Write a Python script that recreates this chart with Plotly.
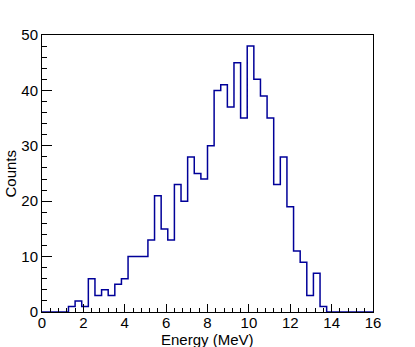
import numpy as np
import plotly.graph_objects as go

# histogram: 50 bins from 0 to 16 MeV
n_bins = 50
e_min, e_max = 0.0, 16.0
counts = [0, 0, 0, 0, 1, 2, 1, 6, 3, 4,
          3, 5, 6, 10, 10, 10, 13, 21, 15, 13,
          23, 20, 28, 25, 24, 30, 40, 41, 37, 45,
          35, 48, 42, 39, 35, 23, 28, 19, 11, 9,
          3, 7, 1, 0, 0, 0, 0, 0, 0, 0]
x_title = "Energy (MeV)"
y_title = "Counts"

edges = np.linspace(e_min, e_max, n_bins + 1)
x_step = list(edges)
y_step = counts + [counts[-1]]

font = dict(family="Liberation Sans, Arial, sans-serif", size=15, color="black")

fig = go.Figure()
fig.add_trace(go.Scatter(x=x_step, y=y_step, mode="lines",
                         line=dict(color="#000099", width=1.5, shape="hv"),
                         showlegend=False, hoverinfo="skip"))

axis_common = dict(showgrid=False, zeroline=False, showline=True, linecolor="black",
                   linewidth=1, mirror=True, ticks="inside", tickcolor="black",
                   tickwidth=1, tickfont=font, automargin=False)

fig.update_xaxes(range=[e_min, e_max], dtick=2, tick0=0, ticklen=8,
                 ticklabelstandoff=-3,
                 minor=dict(ticks="inside", dtick=0.4, ticklen=4, tickcolor="black"),
                 **axis_common)
fig.update_yaxes(range=[0, 50], dtick=10, tick0=0, ticklen=10,
                 minor=dict(ticks="inside", dtick=2, ticklen=5, tickcolor="black"),
                 **axis_common)

# axis titles as annotations so they sit where ROOT puts them
fig.add_annotation(text=x_title, xref="paper", yref="paper", x=0.5, y=0,
                   yshift=-27, xanchor="center", yanchor="middle",
                   showarrow=False, font=font)
fig.add_annotation(text=y_title, xref="paper", yref="paper", x=0, y=0.5,
                   xshift=-32, xanchor="center", yanchor="middle", textangle=-90,
                   showarrow=False, font=font)

fig.update_layout(width=415, height=347,
                  margin=dict(l=42, r=42, t=35, b=35),
                  paper_bgcolor="white", plot_bgcolor="white",
                  font=font)

# drop the default 8px page margin so the figure fills the window
fig.write_html("out.html", config={"displayModeBar": False},
               post_script="document.body.style.margin='0';")
